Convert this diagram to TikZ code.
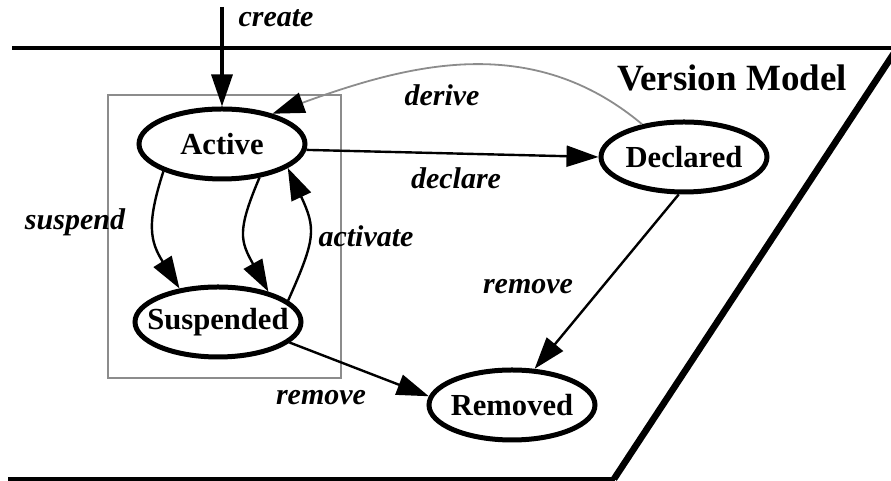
\documentclass[tikz,border=0pt]{standalone}
\usepackage{fontspec}
\setmainfont{Liberation Serif}
\usetikzlibrary{shapes.geometric,arrows.meta}

\begin{document}
\begin{tikzpicture}[x=0.5pt, y=0.5pt,
	state/.style={ellipse, draw, line width=2.5pt, minimum width=83pt, minimum height=35pt, inner xsep=-8pt, inner ysep=0pt, font=\fontsize{15.3}{18}\selectfont\bfseries},
	lbl/.style={font=\fontsize{15}{18}\selectfont\bfseries\itshape},
	arr/.style={line width=1.2pt, -{Triangle[length=16pt, width=10.5pt]}}]
	\useasboundingbox (0,0) rectangle (891,481);
	% frame of the model
	\draw[line width=1.6pt] (12,433) -- (891,433);
	\draw[line width=1.6pt] (8,2) -- (615,2);
	\draw[line width=3.3pt] (614,2) -- (898,434);
	\node[font=\fontsize{18.5}{22}\selectfont\bfseries] (title) at (732,403) {Version Model};
	\draw[black!45, line width=1.1pt] (108,103) rectangle (341,386);
	\node[state] (act) at (222,337) {Active};
	\node[state] (dec) at (684,324) {Declared};
	\node[state] (sus) at (218,159) {Suspended};
	\node[state] (rem) at (512,76) {Removed};
	\coordinate (top) at (222,474);
	\draw[arr, line width=1.6pt] (top) -- (act.north);
	\draw[arr] (act.-4) -- (dec.west);
	\draw[arr, black!45, line width=0.9pt, -{Triangle[length=16pt, width=10.5pt, black]}] (dec.142) to[out=140, in=20] (act.31);
	\draw[arr] (act.205) to[out=252, in=122, looseness=1.2] (sus.139);
	\draw[arr] (act.-42) to[out=247, in=119, looseness=1.3] (sus.31);
	\draw[arr] (sus.17) to[out=66, in=-65, looseness=1.3] (act.-20);
	\draw[arr] (sus.-16) -- (rem.174);
	\draw[arr] (dec.262) -- (rem.58);
	\node[lbl] (lcreate) at (276,463) {create};
	\node[lbl] (lderive) at (442,386) {derive};
	\node[lbl] (ldeclare) at (456,303) {declare};
	\node[lbl] (lsuspend) at (75,259) {suspend};
	\node[lbl] (lactivate) at (366,245) {activate};
	\node[lbl] (lremovea) at (321,83) {remove};
	\node[lbl] (lremoveb) at (528,194) {remove};
\end{tikzpicture}
\end{document}
